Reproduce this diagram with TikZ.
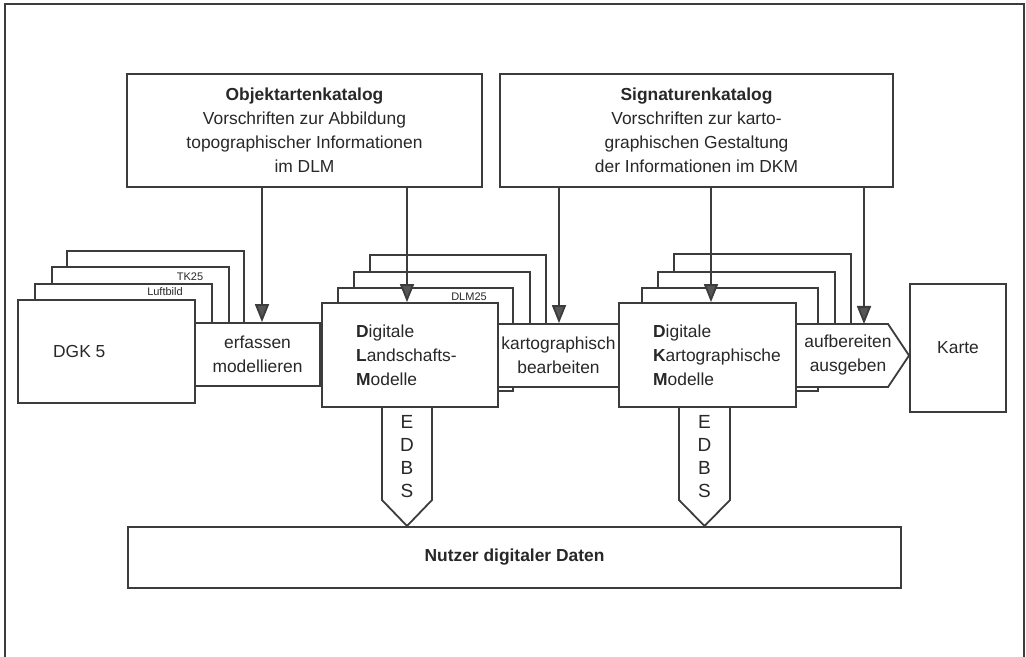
\documentclass[tikz,border=0pt]{standalone}
\usepackage{fontspec}
\setmainfont{Liberation Sans}
\usetikzlibrary{arrows.meta}
\definecolor{linegray}{RGB}{60,60,60}
\definecolor{arrowgray}{RGB}{85,85,85}
\definecolor{textgray}{RGB}{40,40,40}

\begin{document}
\begin{tikzpicture}[x=0.5pt, y=-0.5pt,
    every node/.style={text=textgray, font=\fontsize{8.7}{12}\selectfont},
    box/.style={draw=linegray, fill=white, line width=0.9pt, inner sep=0pt},
    sheet/.style={draw=linegray, fill=white, line width=0.9pt},
    feed/.style={draw=linegray, line width=0.9pt, -{Triangle[width=7pt,length=9pt,fill=arrowgray]}},
    tag/.style={font=\fontsize{5.5}{6}\selectfont, inner sep=0pt},
    edbs/.style={align=center, font=\fontsize{9.5}{11.5}\selectfont}]
		% Frame
		\useasboundingbox (0,0) rectangle (1026,657);
		\draw[linegray, line width=1pt] (5,657) -- (5,4) -- (1024,4) -- (1024,657);

		% Catalogues
		\node[box, minimum width=177.5pt, minimum height=56.5pt, align=center] (obj) at (304.5,130.5)
			{\textbf{Objektartenkatalog}\\Vorschriften zur Abbildung\\topographischer Informationen\\im DLM};
		\node[box, minimum width=196.5pt, minimum height=56.5pt, align=center] (sig) at (696.5,130.5)
			{\textbf{Signaturenkatalog}\\Vorschriften zur karto-\\graphischen Gestaltung\\der Informationen im DKM};

		% Sheets behind DGK 5
		\draw[sheet] (67,251) rectangle (244,380);
		\draw[sheet] (52,267) rectangle (229,380);
		\draw[sheet] (35,284) rectangle (212,380);
		\node[tag] (tk) at (190,277) {TK25};
		\node[tag] (luft) at (165,292) {Luftbild};

		% Sheets behind DLM
		\draw[sheet] (370,255) rectangle (546,385);
		\draw[sheet] (354,272) rectangle (530,385);
		\draw[sheet] (338,288) rectangle (513,391);
		\node[tag] (dlmtag) at (469,297) {DLM25};

		% Sheets behind DKM
		\draw[sheet] (674,254) rectangle (851,385);
		\draw[sheet] (658,272) rectangle (835,385);
		\draw[sheet] (642,288) rectangle (818,391);

		% Steps between the models
		\node[box, minimum width=62.5pt, minimum height=31.5pt, align=center] (erf) at (257.5,354.5) {erfassen\\modellieren};
		\node[box, minimum width=60.5pt, minimum height=31.5pt, align=center] (kart) at (558.5,355.5) {kartographisch\\bearbeiten};
		\draw[box] (796,324) -- (888,324) -- (909,355.5) -- (888,387) -- (796,387) -- cycle;
		\node[align=center] (auf) at (848,355) {aufbereiten\\ausgeben};

		% Exchange to the users
		\draw[box] (382,407) -- (382,500) -- (407,526) -- (432,500) -- (432,407);
		\node[edbs] (edbsl) at (407,457) {E\\D\\B\\S};
		\draw[box] (679,407) -- (679,500) -- (704.5,526) -- (730,500) -- (730,407);
		\node[edbs] (edbsk) at (704.5,457) {E\\D\\B\\S};

		% Models
		\node[box, minimum width=88.5pt, minimum height=51.5pt] (dgk) at (106.5,351.5) {};
		\node[anchor=west] (dgktext) at ([xshift=14.5pt]dgk.west) {DGK 5};
		\node[box, minimum width=88pt, minimum height=52pt] (dlm) at (410,355) {};
		\node[anchor=west, align=left] (dlmtext) at ([xshift=14pt]dlm.west)
			{\textbf{D}igitale\\\textbf{L}andschafts-\\\textbf{M}odelle};
		\node[box, minimum width=88.5pt, minimum height=52pt] (dkm) at (707.5,355) {};
		\node[anchor=west, align=left] (dkmtext) at ([xshift=14pt]dkm.west)
			{\textbf{D}igitale\\\textbf{K}artographische\\\textbf{M}odelle};
		\node[box, minimum width=48pt, minimum height=64pt] (karte) at (958,348) {Karte};

		% Users
		\node[box, minimum width=386.5pt, minimum height=30.5pt] (nutzer) at (514.5,557.5) {\textbf{Nutzer digitaler Daten}};

		% Inputs from the catalogues
		\coordinate (inerf) at ([xshift=2.25pt]erf.north);
		\coordinate (indlm) at ([xshift=-1.5pt]dlm.north);
		\coordinate (inkart) at ([xshift=0.25pt]kart.north);
		\coordinate (indkm) at ([xshift=1.75pt]dkm.north);
		\coordinate (inauf) at (864,324);
		\draw[feed] (inerf |- obj.south) -- (inerf);
		\draw[feed] (indlm |- obj.south) -- (indlm);
		\draw[feed] (inkart |- sig.south) -- (inkart);
		\draw[feed] (indkm |- sig.south) -- (indkm);
		\draw[feed] (inauf |- sig.south) -- (inauf);
	\end{tikzpicture}
\end{document}
